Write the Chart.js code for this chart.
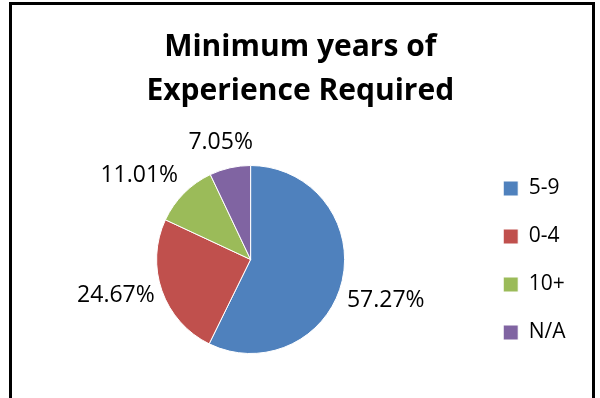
<!DOCTYPE html>
<html>
<head>
<meta charset="utf-8">
<script src="https://cdn.jsdelivr.net/npm/chart.js@4"></script>
<style>
  html, body { margin: 0; padding: 0; background: #fff; overflow: hidden; }
  #wrap { position: relative; width: 600px; height: 398px; }
  #frame { position: absolute; left: 9px; top: 2px; width: 580px; height: 420px; border: 3px solid #000; box-sizing: content-box; }
  canvas { position: absolute; left: 0; top: 0; }
</style>
</head>
<body>
<div id="wrap">
  <div id="frame"></div>
  <canvas id="c" width="600" height="398"></canvas>
</div>
<script>
const titleLines = ['Minimum years of', 'Experience Required'];
const categories = ['5-9', '0-4', '10+', 'N/A'];
const shares = [57.27, 24.67, 11.01, 7.05];
const colors = ['#4F81BD', '#C0504D', '#9BBB59', '#8064A2'];

const outsideLabels = {
  id: 'outsideLabels',
  afterDatasetsDraw(chart, args, opts) {
    const ctx = chart.ctx;
    const meta = chart.getDatasetMeta(0);
    const ds = chart.data.datasets[0];
    ctx.save();
    ctx.font = opts.font;
    ctx.fillStyle = opts.color;
    ctx.textAlign = 'center';
    ctx.textBaseline = 'middle';
    meta.data.forEach((arc, i) => {
      const mid = (arc.startAngle + arc.endAngle) / 2;
      const dx = Math.cos(mid), dy = Math.sin(mid);
      const text = ds.data[i].toFixed(2) + '%';
      const w = ctx.measureText(text).width;
      const h = opts.boxHeight;
      const d = arc.outerRadius + opts.gap;
      const n = opts.nudge[i] || [0, 0];
      const x = arc.x + dx * d + dx * w / 2 + n[0];
      const y = arc.y + dy * d + dy * h / 2 + n[1];
      ctx.fillText(text, x, y);
    });
    ctx.restore();
  }
};

new Chart(document.getElementById('c'), {
  type: 'pie',
  data: {
    labels: categories,
    datasets: [{
      data: shares,
      backgroundColor: colors,
      borderColor: '#ffffff',
      borderWidth: 1
    }]
  },
  options: {
    responsive: false,
    animation: false,
    radius: 94,
    layout: { padding: { left: 25, right: 24.5, top: 0, bottom: 28 } },
    plugins: {
      title: {
        display: true,
        text: titleLines,
        color: '#000',
        font: { family: 'Open Sans', weight: 'bold', size: 30, lineHeight: 1.467 },
        padding: { top: 25.5, bottom: 35.5 }
      },
      legend: {
        position: 'right',
        align: 'end',
        labels: {
          color: '#000',
          font: { family: 'Open Sans', size: 21 },
          boxWidth: 15,
          boxHeight: 15,
          padding: 27
        }
      },
      tooltip: { enabled: false },
      outsideLabels: {
        font: '23px "Open Sans"',
        color: '#000',
        gap: 10,
        boxHeight: 26,
        nudge: [[-4, 14], [0, -3], [-10, -2], [0, -3]]
      }
    }
  },
  plugins: [outsideLabels]
});
</script>
</body>
</html>
